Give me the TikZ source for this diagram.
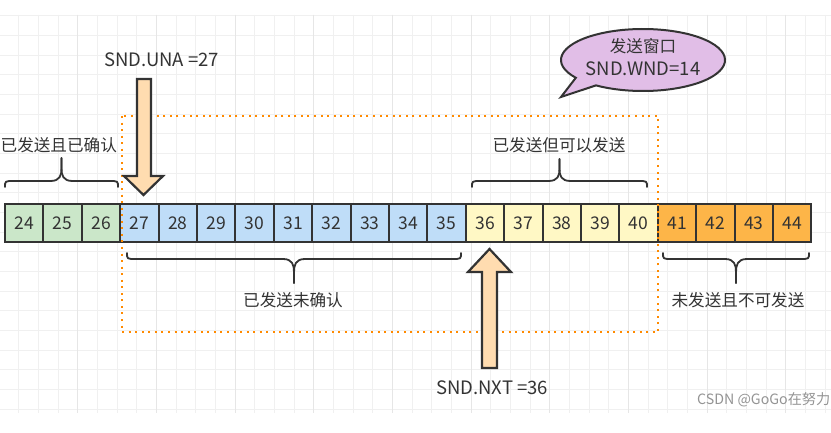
\documentclass[tikz,border=0pt]{standalone}
\usepackage{fontspec}
\setmainfont{Noto Sans CJK SC}
\definecolor{cgreen}{HTML}{CBE7C9}
\definecolor{cblue}{HTML}{BFDDF8}
\definecolor{cyellow}{HTML}{FFF8C5}
\definecolor{corange}{HTML}{FDB548}
\definecolor{carrow}{HTML}{FFDCB0}
\definecolor{cbubble}{HTML}{E1BEE7}
\definecolor{cline}{HTML}{333333}
\definecolor{cdot}{HTML}{FF8A00}
\definecolor{gridminor}{HTML}{F0F0F0}
\definecolor{gridmajor}{HTML}{E6E6E6}
\newcommand\mybrace[5]{%
  \pgfmathsetmacro\bxm{(#1+#2)/2}%
  \pgfmathsetmacro\bym{#4+0.55*(#5-#4)}%
  \pgfmathsetmacro\byc{#4+0.25*(#5-#4)}%
  \draw[bracestyle] (#1,#3) .. controls (#1,#4) .. ({#1+9},#4) -- ({\bxm-11},#4)
     .. controls ({\bxm-1.5},#4) and (\bxm,\byc) .. (\bxm,\bym) -- (\bxm,#5);
  \draw[bracestyle] (\bxm,#5) -- (\bxm,\bym) .. controls (\bxm,\byc) and ({\bxm+1.5},#4) .. ({\bxm+11},#4)
     -- ({#2-9},#4) .. controls (#2,#4) .. (#2,#3);
}
\tikzset{
  cell/.style={draw=cline, line width=2pt, minimum width=38.4pt, minimum height=38pt,
    inner sep=0pt, anchor=north west, text=cline, font=\fontsize{17.5}{19}\selectfont},
  lbl/.style={text=cline, inner sep=0pt, font=\fontsize{16.6}{19}\selectfont},
  sndlbl/.style={text=cline, inner sep=0pt, font=\fontsize{18.5}{21}\selectfont},
  bracestyle/.style={draw=cline, line width=1.8pt, line cap=round, line join=round},
  blockarrow/.style={draw=cline, fill=carrow, line width=2.2pt, line join=miter},
  window/.style={draw=cdot, line width=2pt, dash pattern=on 2pt off 4.55pt},
}
\begin{document}
\begin{tikzpicture}[x=1pt,y=-1pt]
\useasboundingbox (0,0) rectangle (831,433);
\fill[white] (0,0) rectangle (831,433);
% background grid
\foreach \k in {0,...,42} {
  \pgfmathsetmacro\gx{-0.96+19.667*\k}
  \draw[gridminor, line width=0.8pt] (\gx,15) -- (\gx,413);
}
\foreach \k in {0,...,20} {
  \pgfmathsetmacro\gy{15.6+19.667*\k}
  \draw[gridminor, line width=0.8pt] (0,\gy) -- (831,\gy);
}
\foreach \k in {0,...,10} {
  \pgfmathsetmacro\gx{-1+78.67*\k}
  \draw[gridmajor, line width=0.9pt] (\gx,15) -- (\gx,413);
}
% cells
\foreach \n [count=\i from 0] in {24,...,44} {
  \pgfmathsetmacro\cx{4+38.4*\i}
  \ifnum\n<27 \def\cfill{cgreen}\else
    \ifnum\n<36 \def\cfill{cblue}\else
      \ifnum\n<41 \def\cfill{cyellow}\else \def\cfill{corange}\fi\fi\fi
  \node[cell, fill=\cfill] (c\n) at (\cx,203) {\n};
}
% window
\draw[window] (122,116) rectangle (658,332);
% SND.UNA arrow
\draw[blockarrow] (137,79) -- (151,79) -- (151,176) -- (163,176) -- (143.5,195)
   -- (124,176) -- (137,176) -- cycle;
\node[sndlbl, anchor=west] (una) at (104,60) {SND.UNA =27};
% SND.NXT arrow
\draw[blockarrow] (482,368) -- (497,368) -- (497,272) -- (511,272) -- (489.5,249)
   -- (468,272) -- (482,272) -- cycle;
\node[sndlbl, anchor=west] (nxt) at (436,388) {SND.NXT =36};
% bubble
\draw[draw=cline, fill=cbubble, line width=2pt, line join=miter]
  (643,60) ++(145:82 and 31) arc[start angle=145, end angle=485, x radius=82, y radius=31]
  -- (561,97) -- cycle;
\node[lbl] (bub1) at (643,46) {发送窗口};
\node[sndlbl] (bub2) at (643,69) {SND.WND=14};
% braces
\mybrace{5}{118}{187}{181}{158}
\mybrace{472}{647}{187}{181}{159}
\mybrace{127}{461}{253}{259}{283}
\mybrace{663}{809}{253}{259}{283}
\node[lbl, anchor=west] (b1) at (0.5,145) {已发送且已确认};
\node[lbl] (b2) at (559,145) {已发送但可以发送};
\node[lbl] (b3) at (293,300) {已发送未确认};
\node[lbl] (b4) at (738,300) {未发送且不可发送};
% watermark
\node[anchor=west, text=black!42, inner sep=0pt, font=\fontsize{14.2}{16}\selectfont] (wm) at (697,400) {CSDN @GoGo在努力};
\end{tikzpicture}
\end{document}
